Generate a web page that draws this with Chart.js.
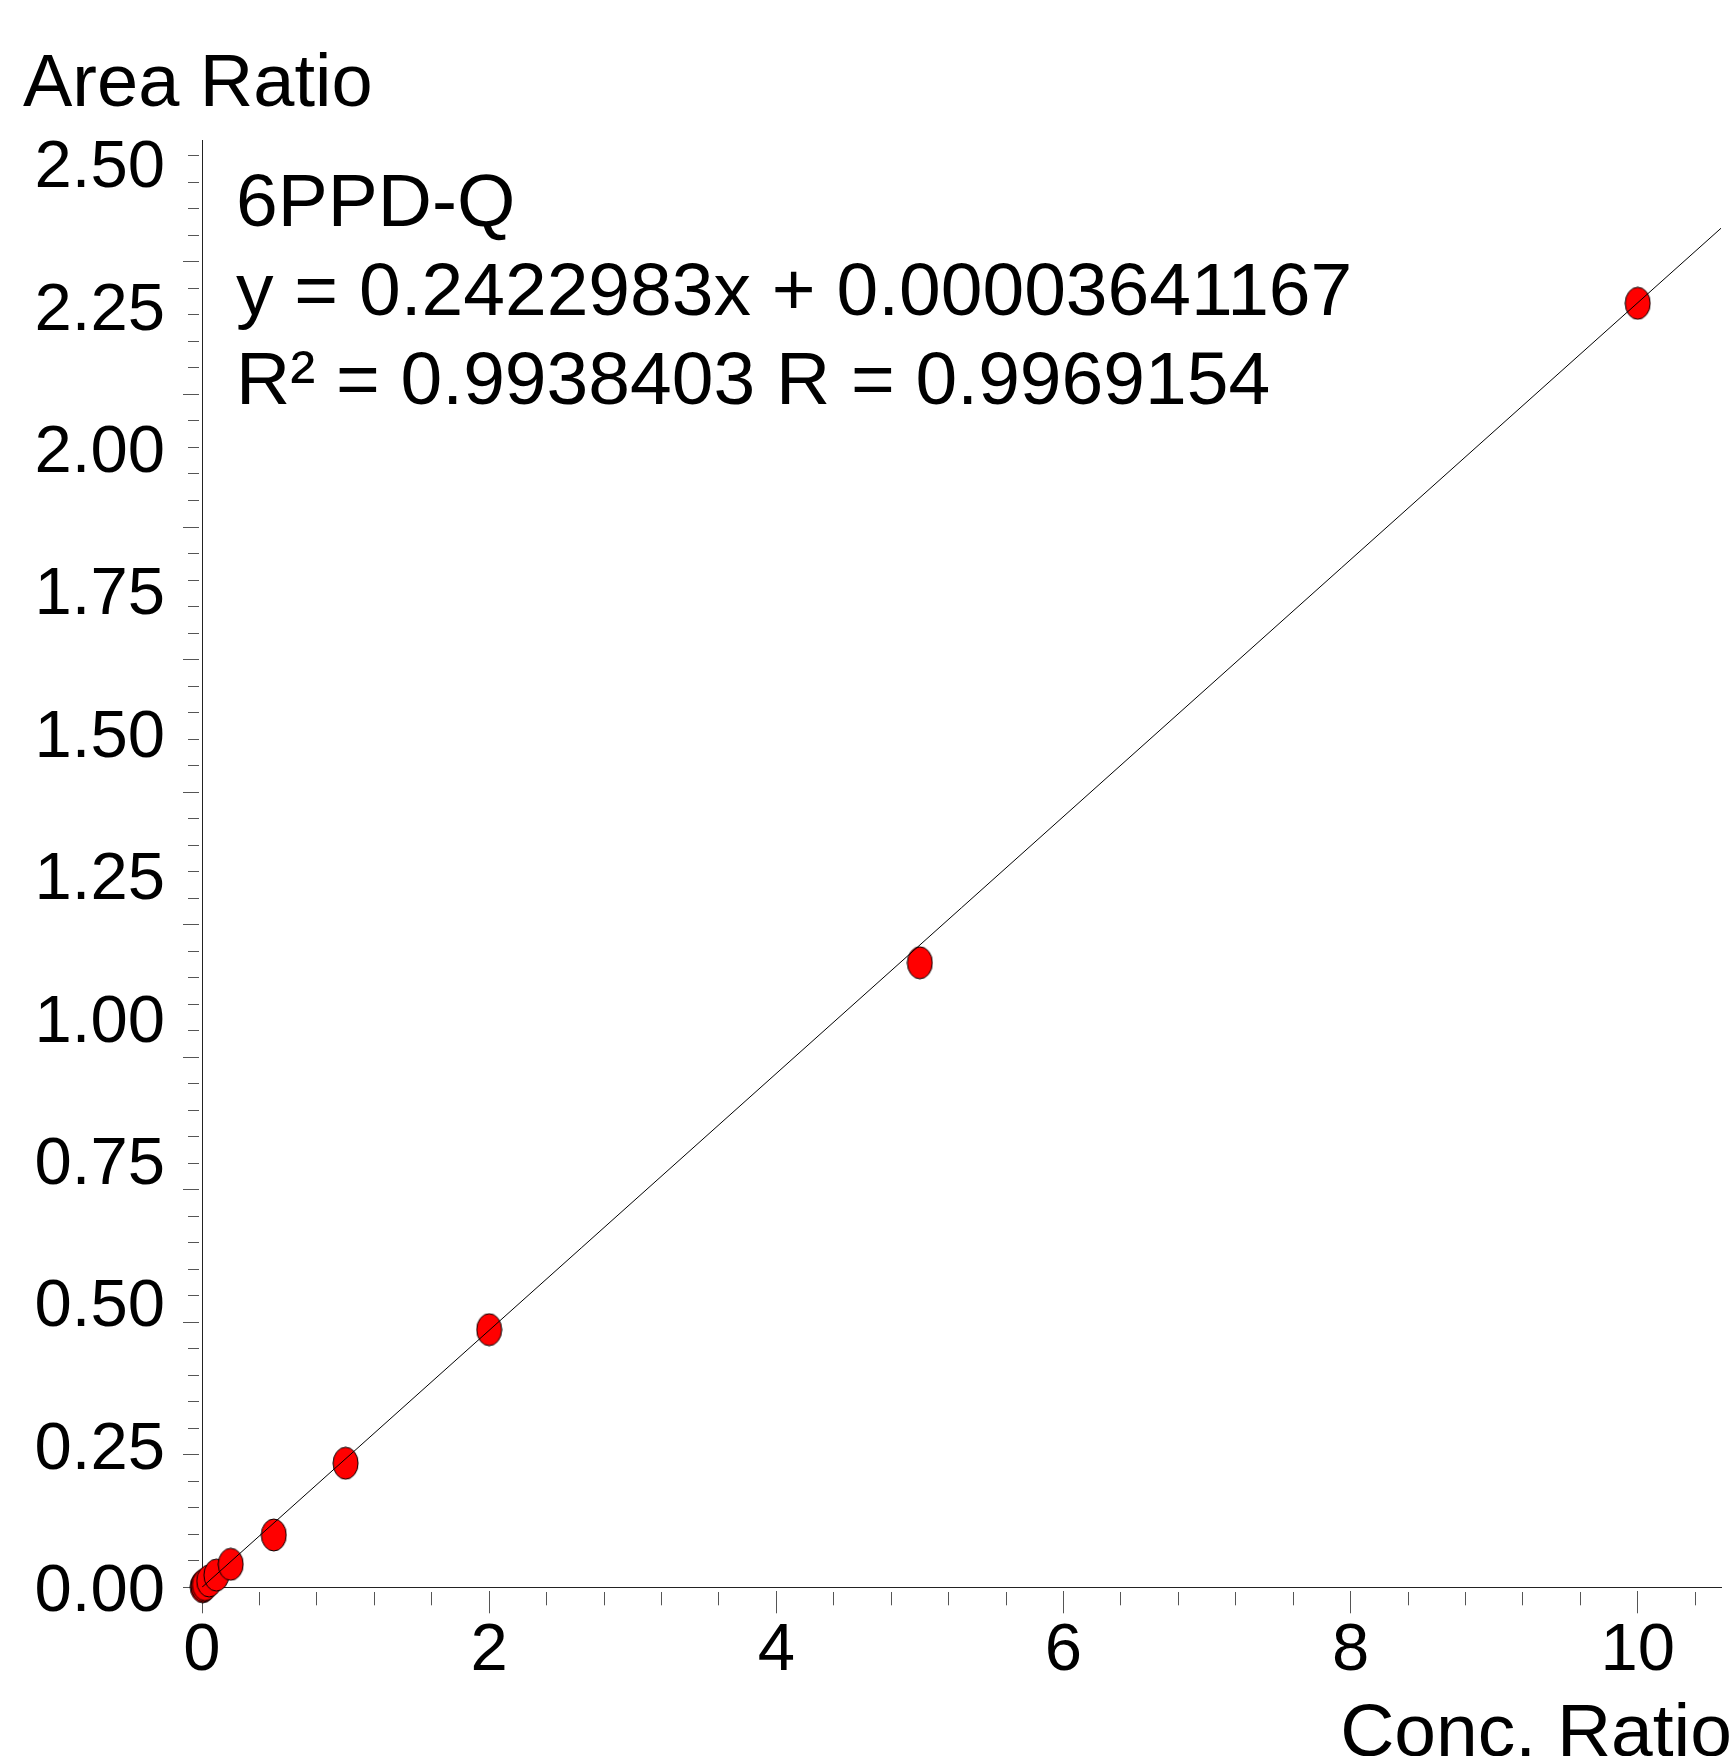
<!DOCTYPE html>
<html lang="en">
<head>
    <meta charset="UTF-8">
    <title>6PPD-Q calibration curve</title>
    <script src="https://cdn.jsdelivr.net/npm/chart.js"></script>
    <style>
        html, body { margin: 0; padding: 0; background: #fff; overflow: hidden; }
        #wrap {
            position: relative;
            width: 1735px;
            height: 1756px;
            font-family: "Liberation Sans", Arial, sans-serif;
            color: #000;
        }
        #wrap canvas { position: absolute; left: 0; top: 0; }
        .txt { position: absolute; white-space: nowrap; }
        #yTitle { left: 23px; top: 44px; font-size: 74px; line-height: 74px; }
        #fitInfo { left: 236px; top: 156px; font-size: 75px; line-height: 89px; }
        #xTitle { right: 3px; top: 1693px; font-size: 75px; line-height: 75px; }
    </style>
</head>
<body>
    <div id="wrap">
        <canvas id="calChart" width="1735" height="1756"></canvas>
        <div class="txt" id="yTitle">Area Ratio</div>
        <div class="txt" id="fitInfo">6PPD-Q<br>y = 0.2422983x + 0.00003641167<br>R² = 0.9938403 R = 0.9969154</div>
        <div class="txt" id="xTitle">Conc. Ratio</div>
    </div>

    <script>
        // calibration points
        const concRatio = [0.005, 0.01, 0.02, 0.05, 0.1, 0.2, 0.5, 1, 2, 5, 10];
        const areaRatio = [0.001, 0.003, 0.005, 0.012, 0.023, 0.0434, 0.0987, 0.234, 0.486, 1.178, 2.422];

        // fitted line from the legend text
        const slope = 0.2422983;
        const intercept = 0.00003641167;

        // axis ranges
        const xMax = 10.58;
        const yMax = 2.73;

        // tick labels
        const xTickValues = [0, 2, 4, 6, 8, 10];
        const xTickLabels = ["0", "2", "4", "6", "8", "10"];
        const yTickValues = [0, 0.25, 0.5, 0.75, 1, 1.25, 1.5, 1.75, 2, 2.25, 2.5];
        const yTickLabels = ["0.00", "0.25", "0.50", "0.75", "1.00", "1.25", "1.50", "1.75", "2.00", "2.25", "2.50"];

        // in the original the y labels sit on a slightly stretched scale
        // compared to the tick marks, so they get their own axis
        const yLabelMin = 0.0097;
        const yLabelMax = 2.5506;

        Chart.defaults.font.family = "'Liberation Sans', Arial, sans-serif";
        Chart.defaults.color = "#000";

        // red ellipse marker, a bit taller than wide
        function ellipseMarker(w, h) {
            const c = document.createElement("canvas");
            c.width = w + 2;
            c.height = h + 2;
            const g = c.getContext("2d");
            g.beginPath();
            g.ellipse(c.width / 2, c.height / 2, w / 2, h / 2, 0, 0, Math.PI * 2);
            g.fillStyle = "#ff0000";
            g.fill();
            g.lineWidth = 1;
            g.strokeStyle = "#000";
            g.stroke();
            return c;
        }

        // axis that only draws tick marks (no labels, takes no room)
        function tickAxis(axis, position, max, step, len, dash, showBorder) {
            return {
                type: "linear",
                axis: axis,
                position: position,
                min: 0,
                max: max,
                ticks: { display: false, stepSize: step, includeBounds: false },
                grid: {
                    drawOnChartArea: false,
                    tickLength: len,
                    tickColor: "#555",
                    tickWidth: 1,
                    tickBorderDash: dash
                },
                border: { display: showBorder, color: "#222", width: 1 },
                afterFit: function(s) {
                    if (s.isHorizontal()) s.height = 0;
                    else s.width = 0;
                }
            };
        }

        const points = concRatio.map((x, i) => ({ x: x, y: areaRatio[i] }));
        const fitLine = [
            { x: 0, y: intercept },
            { x: xMax, y: slope * xMax + intercept }
        ];

        new Chart(document.getElementById("calChart"), {
            type: "scatter",
            data: {
                datasets: [
                    {
                        label: "fit",
                        data: fitLine,
                        showLine: true,
                        borderColor: "#000",
                        borderWidth: 1,
                        pointRadius: 0,
                        pointHoverRadius: 0
                    },
                    {
                        label: "6PPD-Q",
                        data: points,
                        pointStyle: ellipseMarker(25, 32),
                        pointRadius: 13,
                        pointHoverRadius: 13,
                        clip: false
                    }
                ]
            },
            options: {
                responsive: false,
                animation: false,
                devicePixelRatio: 1,
                layout: { padding: { top: 140, right: 13.4, bottom: 0, left: 0 } },
                plugins: {
                    legend: { display: false },
                    tooltip: { enabled: false },
                    title: { display: false }
                },
                scales: {
                    x: tickAxis("x", "bottom", xMax, 0.4, 18, [0, 4, 100], true),
                    xMajor: tickAxis("x", "bottom", xMax, 2, 26, [0, 4, 100], false),
                    xLab: {
                        type: "linear",
                        axis: "x",
                        position: "bottom",
                        weight: 1,
                        min: 0,
                        max: xMax,
                        afterBuildTicks: function(s) {
                            s.ticks = xTickValues.map(v => ({ value: v }));
                        },
                        ticks: {
                            padding: 24,
                            maxRotation: 0,
                            autoSkip: false,
                            color: "#000",
                            font: { size: 67 },
                            callback: (v, i) => xTickLabels[i]
                        },
                        grid: { display: false, drawTicks: false },
                        border: { display: false },
                        afterFit: function(s) { s.height = 168.7; }
                    },
                    y: tickAxis("y", "left", yMax, 0.05, 14, [11, 100], true),
                    yMajor: tickAxis("y", "left", yMax, 0.25, 19, [16, 100], false),
                    yLab: {
                        type: "linear",
                        axis: "y",
                        position: "left",
                        weight: 1,
                        min: yLabelMin,
                        max: yLabelMax,
                        afterBuildTicks: function(s) {
                            s.ticks = yTickValues.map(v => ({ value: v }));
                        },
                        ticks: {
                            padding: 37,
                            autoSkip: false,
                            color: "#000",
                            font: { size: 67 },
                            callback: (v, i) => yTickLabels[i]
                        },
                        grid: { display: false, drawTicks: false },
                        border: { display: false },
                        afterFit: function(s) { s.width = 202; }
                    }
                }
            }
        });
    </script>
</body>
</html>
